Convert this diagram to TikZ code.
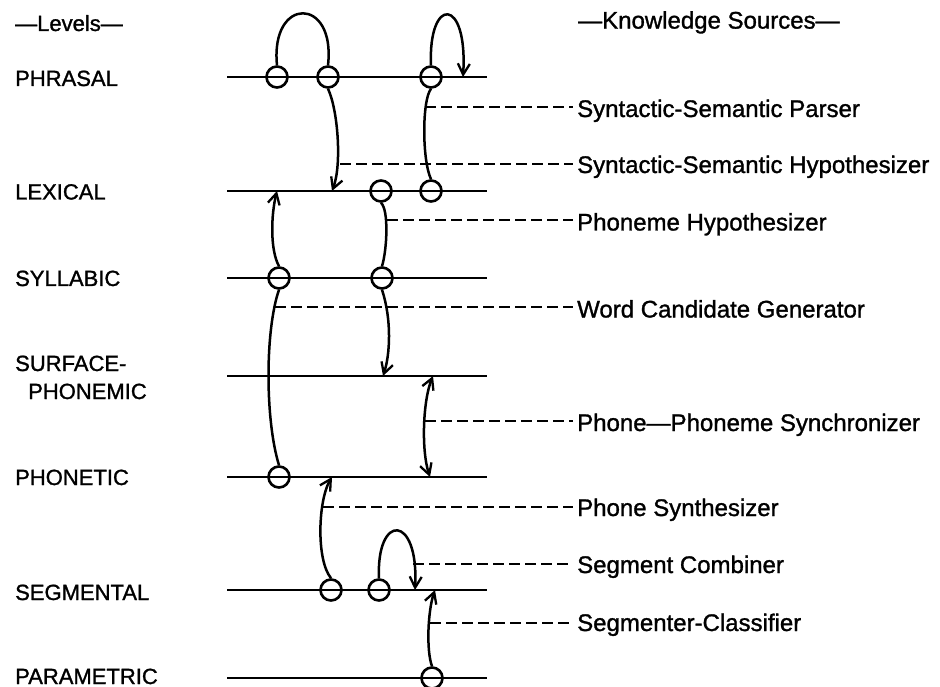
\documentclass[tikz,border=0pt]{standalone}
\usepackage{fontspec}
\setmainfont{Liberation Sans}[BoldFont=Liberation Sans, BoldFeatures={FakeBold=1.2}]
\usetikzlibrary{arrows.meta}

\begin{document}
\begin{tikzpicture}[
    x=1pt, y=-1pt,
    lvl/.style={line width=2.8pt},
    lvlhd/.style={anchor=base west, font=\fontsize{22}{24}\selectfont\bfseries, inner sep=0pt},
    kshd/.style={anchor=base west, font=\fontsize{24}{26}\selectfont\bfseries, inner sep=0pt},
    hit/.style={circle, draw, line width=2.6pt, minimum size=21pt, inner sep=0pt},
    fl/.style={line width=2.5pt},
    afl/.style={-{Straight Barb[length=11pt,width=12pt,line width=2.3pt]}, line width=2.5pt},
    bfl/.style={{Straight Barb[length=11pt,width=12pt,line width=2.3pt]}-{Straight Barb[length=11pt,width=12pt,line width=2.3pt]}, line width=2.5pt},
    dl/.style={line width=2.8pt, dash pattern=on 11pt off 5pt}
  ]
    \useasboundingbox (0,0) rectangle (940,687);

    % --- headings ---
    \node[lvlhd] (lvlh) at (15, 31)  {—Levels—};
    \node[kshd]  (ksh)  at (578, 28.6) {—Knowledge Sources—};

    % --- levels ---
    \node[lvlhd] (nph) at (15, 86)  {PHRASAL};
    \node[lvlhd] (nlx) at (15, 199.5) {LEXICAL};
    \node[lvlhd] (nsy) at (15, 286) {SYLLABIC};
    \node[lvlhd] (nsf) at (15, 371) {SURFACE-};
    \node[lvlhd] (nsf2) at (28, 399) {PHONEMIC};
    \node[lvlhd] (npt) at (15, 485) {PHONETIC};
    \node[lvlhd] (nsg) at (15, 600) {SEGMENTAL};
    \node[lvlhd] (npa) at (15, 684) {PARAMETRIC};

    \foreach \nm/\yy in {ph/77, lx/191, sy/278, sf/376, pt/477, sg/590, pa/678} {
      \coordinate (\nm-l) at (227, \yy);
      \coordinate (\nm-r) at (487, \yy);
      \draw[lvl] (\nm-l) -- (\nm-r);
    }

    % --- hypotheses ---
    \node[hit] (ph1) at (277, 77) {};
    \node[hit] (ph2) at (328, 77) {};
    \node[hit] (ph3) at (431, 77) {};
    \node[hit] (lx1) at (381, 191) {};
    \node[hit] (lx2) at (431, 191) {};
    \node[hit] (sy1) at (279, 278) {};
    \node[hit] (sy2) at (382, 278) {};
    \node[hit] (pt1) at (279, 477) {};
    \node[hit] (sg1) at (331, 590) {};
    \node[hit] (sg2) at (379, 590) {};
    \node[hit] (pa1) at (432, 678) {};

    % --- arrow ends on the level lines ---
    \coordinate (phx) at (463, 77);
    \coordinate (lxa) at (332, 191);
    \coordinate (lxb) at (277, 191);
    \coordinate (sfa) at (383, 376);
    \coordinate (sfb) at (433, 376);
    \coordinate (pta) at (430, 477);
    \coordinate (ptb) at (332, 477);
    \coordinate (sga) at (415, 590);
    \coordinate (sgb) at (435, 590);

    % --- knowledge sources ---
    \node[kshd] (ssp) at (577, 117)   {Syntactic-Semantic Parser};
    \node[kshd] (ssh) at (577, 173)   {Syntactic-Semantic Hypothesizer};
    \node[kshd] (phh) at (577, 230.5) {Phoneme Hypothesizer};
    \node[kshd] (wcg) at (577, 317.5) {Word Candidate Generator};
    \node[kshd] (pps) at (577, 431)   {Phone—Phoneme Synchronizer};
    \node[kshd] (psy) at (577, 516)   {Phone Synthesizer};
    \node[kshd] (sgc) at (577, 573)   {Segment Combiner};
    \node[kshd] (scl) at (577, 631)   {Segmenter-Classifier};

    \draw[fl] (ph1.north) .. controls (270,-4) and (336,-4) .. (ph2.north);
    \draw[afl] (ph3.north) .. controls (428,-4) and (468,-4) .. (phx);
    \draw[afl] (ph2.south) .. controls (338,110) and (342,165) .. (lxa);
    \draw[fl] (ph3.south) .. controls (422,100) and (422,160) .. (lx2.north);
    \draw[fl] (lx1.south) .. controls (389,210) and (387,250) .. (sy2.north);
    \draw[afl] (sy1.north) .. controls (270,250) and (271,215) .. (lxb);
    \draw[fl] (pt1.north) .. controls (265,420) and (265,330) .. (sy1.south);
    \draw[afl] (sy2.south) .. controls (392,320) and (390,355) .. (sfa);
    \draw[bfl] (sfb) .. controls (423,400) and (421,450) .. (pta);
    \draw[afl] (sg1.north) .. controls (316,560) and (318,500) .. (ptb);
    \draw[afl] (sg2.north) .. controls (376,513) and (419,513) .. (sga);
    \draw[afl] (pa1.north) .. controls (426,650) and (428,610) .. (sgb);

    % --- dashed links ---
    \coordinate (dsp) at (425, 107);
    \coordinate (dsh) at (340, 164);
    \coordinate (dph) at (387, 220);
    \coordinate (dwc) at (275, 307);
    \coordinate (dps) at (425, 421);
    \coordinate (dpy) at (323, 507);
    \coordinate (dsc) at (413, 564);
    \coordinate (dcl) at (430, 623);

    \draw[dl] (dsp) -- ([xshift=-4pt]dsp -| ssp.west);
    \draw[dl] (dsh) -- ([xshift=-4pt]dsh -| ssh.west);
    \draw[dl] (dph) -- ([xshift=-4pt]dph -| phh.west);
    \draw[dl] (dwc) -- ([xshift=-4pt]dwc -| wcg.west);
    \draw[dl] (dps) -- ([xshift=-4pt]dps -| pps.west);
    \draw[dl] (dpy) -- ([xshift=-4pt]dpy -| psy.west);
    \draw[dl] (dsc) -- ([xshift=-4pt]dsc -| sgc.west);
    \draw[dl] (dcl) -- ([xshift=-4pt]dcl -| scl.west);
\end{tikzpicture}
\end{document}
